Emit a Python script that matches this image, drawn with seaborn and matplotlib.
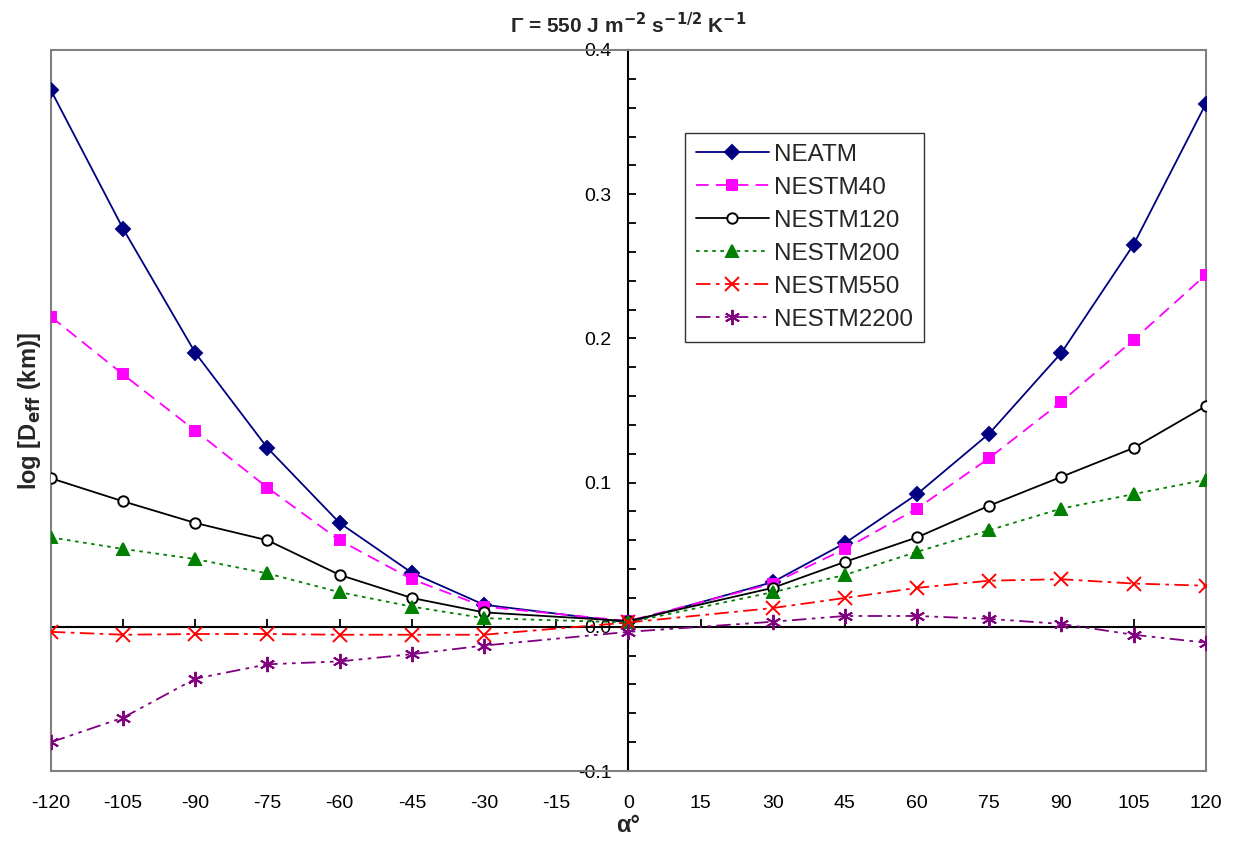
import matplotlib
matplotlib.use("Agg")
import matplotlib.pyplot as plt
import matplotlib.ticker as mticker
from matplotlib import font_manager
import seaborn as sns

# ── Data ─────────────────────────────────────────────────────────────────────
ALPHA = [-120, -105, -90, -75, -60, -45, -30, 0, 30, 45, 60, 75, 90, 105, 120]

NEATM     = [0.372, 0.276, 0.190, 0.124, 0.072, 0.0375, 0.0153, 0.003,
             0.031, 0.058, 0.092, 0.134, 0.190, 0.265, 0.3625]
NESTM40   = [0.215, 0.175, 0.136, 0.0965, 0.060, 0.033, 0.014, 0.004,
             0.030, 0.054, 0.082, 0.117, 0.156, 0.199, 0.244]
NESTM120  = [0.103, 0.087, 0.072, 0.060, 0.036, 0.020, 0.010, 0.004,
             0.027, 0.045, 0.062, 0.084, 0.104, 0.124, 0.153]
NESTM200  = [0.062, 0.054, 0.047, 0.037, 0.024, 0.014, 0.006, 0.003,
             0.024, 0.036, 0.052, 0.067, 0.082, 0.092, 0.102]
NESTM550  = [-0.0035, -0.0055, -0.005, -0.005, -0.0055, -0.0055, -0.0055, 0.003,
             0.013, 0.020, 0.027, 0.032, 0.033, 0.030, 0.0285]
NESTM2200 = [-0.080, -0.063, -0.036, -0.026, -0.024, -0.019, -0.013, -0.0035,
             0.0035, 0.0075, 0.0075, 0.0055, 0.002, -0.0055, -0.011]

X_TICKS = list(range(-120, 121, 15))
Y_MAJOR = [-0.1, 0.0, 0.1, 0.2, 0.3, 0.4]

# ── Style ────────────────────────────────────────────────────────────────────
sns.set_theme(style="white")
installed = {f.name for f in font_manager.fontManager.ttflist}
FONT = "Liberation Sans" if "Liberation Sans" in installed else "DejaVu Sans"
plt.rcParams["font.family"] = [FONT, "DejaVu Sans"]
plt.rcParams["mathtext.default"] = "bf"
plt.rcParams["axes.unicode_minus"] = False

SERIES = [
    ("NEATM",     NEATM,     "#000080", "-",                     "D",       7.5, "#000080"),
    ("NESTM40",   NESTM40,   "#FF00FF", (0, (7, 4)),             "s",       7.5, "#FF00FF"),
    ("NESTM120",  NESTM120,  "#000000", "-",                     "o",       7.5, "white"),
    ("NESTM200",  NESTM200,  "#008000", (0, (2, 2.5)),           "^",       8.5, "#008000"),
    ("NESTM550",  NESTM550,  "#FF0000", (0, (8, 3, 2, 3)),       "x",       10, "#FF0000"),
    ("NESTM2200", NESTM2200, "#800080", (0, (8, 3, 2, 3, 2, 3)), (6, 2, 0), 11, "#800080"),
]

fig = plt.figure(figsize=(12.43, 8.43), dpi=100)
ax = fig.add_axes([0.041, 0.0854, 0.929, 0.8553])

for name, vals, color, ls, mk, ms, mfc in SERIES:
    sns.lineplot(x=ALPHA, y=vals, ax=ax, color=color, linestyle=ls,
                 linewidth=1.3, marker=mk, markersize=ms,
                 markerfacecolor=mfc, markeredgecolor=color,
                 markeredgewidth=1.4, label=name, zorder=3)

ax.set_xlim(-120, 120)
ax.set_ylim(-0.1, 0.4)

# grey outer frame
for sp in ax.spines.values():
    sp.set_color("#808080")
    sp.set_linewidth(1.5)

# x tick labels sit under the frame
ax.set_xticks(X_TICKS)
ax.tick_params(axis="x", length=0, pad=17, labelsize=14, labelcolor="black")
ax.set_yticks([])
ax.set_xlabel("α°", fontsize=17, fontweight="bold", labelpad=2)
ax.set_ylabel(r"log [D$_{eff}$ (km)]", fontsize=17, fontweight="bold", labelpad=6)

# black axes through the origin
yax = ax.secondary_yaxis(0, transform=ax.transData)
yax.spines["left"].set_color("black")
yax.spines["left"].set_linewidth(1.5)
yax.set_yticks(Y_MAJOR)
yax.yaxis.set_major_formatter(mticker.FormatStrFormatter("%.1f"))
yax.yaxis.set_minor_locator(mticker.MultipleLocator(0.02))
yax.tick_params(axis="y", which="both", direction="in", length=6, width=1.3,
                color="black", labelsize=14, labelcolor="black", pad=12)

xax = ax.secondary_xaxis(0, transform=ax.transData)
xax.spines["bottom"].set_color("black")
xax.spines["bottom"].set_linewidth(1.5)
xax.set_xticks(X_TICKS)
xax.tick_params(axis="x", direction="in", length=6, width=1.3,
                color="black", labelbottom=False)

ax.set_title(r"Γ = 550 J m$^{-2}$ s$^{-1/2}$ K$^{-1}$",
             fontsize=15, fontweight="bold", pad=12)

leg = ax.legend(loc="upper left", bbox_to_anchor=(0.549, 0.885),
                fontsize=17.5, frameon=True, fancybox=False, shadow=False,
                handlelength=3.0, handletextpad=0.2, labelspacing=0.45,
                borderpad=0.45, borderaxespad=0)
leg.get_frame().set_edgecolor("black")
leg.get_frame().set_linewidth(1.0)

fig.savefig("out.png", dpi=100)
